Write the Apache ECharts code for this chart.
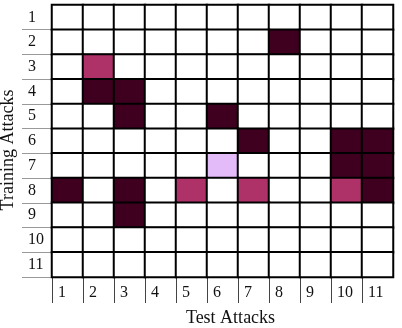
<!DOCTYPE html>
<html>
<head>
<meta charset="utf-8">
<script src="https://cdn.jsdelivr.net/npm/echarts@6/dist/echarts.min.js"></script>
<style>html,body{margin:0;padding:0;background:#fff;}#c{width:402px;height:328px;}</style>
</head>
<body>
<div id="c"></div>
<script>
const testLabels = ['1','2','3','4','5','6','7','8','9','10','11'];
const trainLabels = ['1','2','3','4','5','6','7','8','9','10','11'];
// value per cell: 0 none, 1 light, 2 medium, 3 dark  (columns = test attacks 1..11)
const row1  = [0,0,0,0,0,0,0,0,0,0,0];
const row2  = [0,0,0,0,0,0,0,3,0,0,0];
const row3  = [0,2,0,0,0,0,0,0,0,0,0];
const row4  = [0,3,3,0,0,0,0,0,0,0,0];
const row5  = [0,0,3,0,0,3,0,0,0,0,0];
const row6  = [0,0,0,0,0,0,3,0,0,3,3];
const row7  = [0,0,0,0,0,1,0,0,0,3,3];
const row8  = [3,0,3,0,2,0,2,0,0,2,3];
const row9  = [0,0,3,0,0,0,0,0,0,0,0];
const row10 = [0,0,0,0,0,0,0,0,0,0,0];
const row11 = [0,0,0,0,0,0,0,0,0,0,0];
const matrix = [row1,row2,row3,row4,row5,row6,row7,row8,row9,row10,row11];

const data = [];
matrix.forEach((row, yi) => row.forEach((v, xi) => data.push([xi, yi, v])));

const font = "'Liberation Serif', 'Times New Roman', serif";
const boundaryX = testLabels.concat(['']);
const boundaryY = [''].concat(trainLabels);

const chart = echarts.init(document.getElementById('c'), null, {renderer: 'canvas'});
chart.setOption({
  animation: false,
  backgroundColor: '#fff',
  grid: {left: 52, right: 9, top: 5, bottom: 51, containLabel: false, outerBoundsMode: 'none',
         show: true, borderColor: '#000', borderWidth: 2, backgroundColor: 'transparent'},
  xAxis: [
    {type: 'category', data: testLabels, position: 'bottom',
     axisLine: {show: false}, axisTick: {show: false}, axisLabel: {show: false}, splitLine: {show: false},
     name: 'Test Attacks', nameLocation: 'middle', nameGap: 32,
     nameTextStyle: {fontFamily: font, fontSize: 18, color: '#111', padding: [0, 0, 0, 16]}},
    {type: 'category', data: boundaryX, boundaryGap: false, position: 'bottom', gridIndex: 0,
     axisLine: {show: false},
     axisTick: {show: true, length: 26, lineStyle: {color: '#444', width: 1}, interval: (i) => i < testLabels.length},
     axisLabel: {show: true, interval: (i) => i < testLabels.length, align: 'left', margin: 8,
       fontFamily: font, fontSize: 16, color: '#111', padding: [0, 0, 0, 6]},
     splitLine: {show: false}}
  ],
  yAxis: [
    {type: 'category', data: trainLabels, inverse: true, position: 'left',
     axisLine: {show: false}, axisTick: {show: false}, splitLine: {show: false},
     axisLabel: {show: true, align: 'left', margin: 24, fontFamily: font, fontSize: 16, color: '#111', padding: [4, 0, 0, 0]},
     name: 'Training Attacks', nameLocation: 'middle', nameGap: 31,
     nameTextStyle: {fontFamily: font, fontSize: 18, color: '#111', padding: [0, 18, 0, 0]}},
    {type: 'category', data: boundaryY, boundaryGap: false, inverse: true, position: 'left', gridIndex: 0,
     axisLine: {show: false}, axisLabel: {show: false}, splitLine: {show: false},
     axisTick: {show: true, length: 30, lineStyle: {color: '#999', width: 1}, interval: (i) => i > 0}}
  ],
  visualMap: {
    type: 'piecewise', show: false, dimension: 2, seriesIndex: 0,
    pieces: [
      {value: 0, color: '#ffffff'},
      {value: 1, color: '#e3bbf9'},
      {value: 2, color: '#ae3268'},
      {value: 3, color: '#3f0020'}
    ]
  },
  series: [{
    type: 'heatmap', xAxisIndex: 0, yAxisIndex: 0, data: data,
    itemStyle: {borderColor: '#000', borderWidth: 2},
    emphasis: {disabled: true}, label: {show: false}
  }]
});
</script>
</body>
</html>
